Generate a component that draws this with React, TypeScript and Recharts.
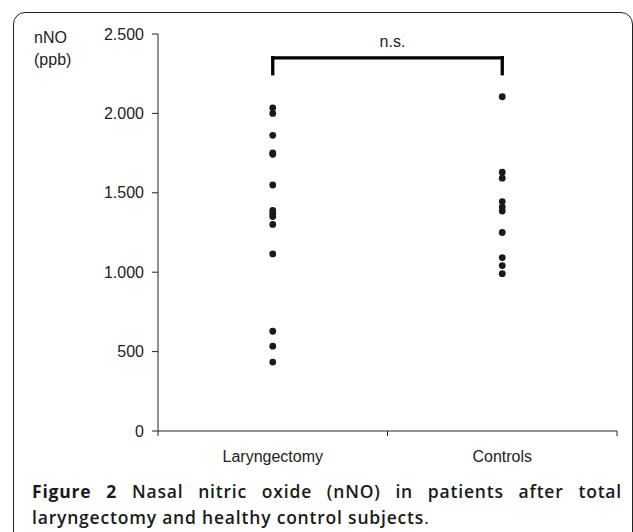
import { ScatterChart, Scatter, XAxis, YAxis, ReferenceLine, ReferenceDot } from 'recharts'

const categories = ['Laryngectomy', 'Controls']
const laryngectomy = [2035, 2000, 1862, 1752, 1742, 1549, 1389, 1368, 1350, 1301, 1115, 628, 534, 434]
const controls = [2105, 1630, 1592, 1445, 1410, 1385, 1250, 1092, 1042, 991]
const yTicks = [0, 500, 1000, 1500, 2000, 2500]
const bracketTop = 2350
const bracketFoot = 2250
const bracketLabel = 2420

const ink = '#222'
const font = '"Liberation Sans", Arial, sans-serif'

const toPoints = (values: number[], idx: number) => values.map((y) => ({ x: idx + 0.5, y }))

const formatY = (v: number) =>
  v >= 1000 ? `${Math.floor(v / 1000)}.${String(v % 1000).padStart(3, '0')}` : String(v)

function XTick(props: any) {
  const { x, y, payload } = props
  const v = payload.value as number
  if (Number.isInteger(v)) {
    return <line x1={x} y1={y} x2={x} y2={y + 5} stroke={ink} strokeWidth={1} />
  }
  return (
    <text x={x} y={y + 31} textAnchor="middle" fill={ink} fontSize={16} fontFamily={font}>
      {categories[Math.floor(v)]}
    </text>
  )
}

function YLabel() {
  return (
    <text fill={ink} fontSize={16} fontFamily={font}>
      <tspan x={34} y={43}>nNO</tspan>
      <tspan x={34} y={65}>(ppb)</tspan>
    </text>
  )
}

const dot = (p: any) => <circle cx={p.cx} cy={p.cy} r={3.4} fill="#1a1a1a" />

export default function App() {
  return (
    <div style={{ position: 'absolute', left: 0, top: 0, width: 633, height: 532, overflow: 'hidden', background: '#fff' }}>
      <div
        style={{
          position: 'absolute',
          left: 13,
          top: 12,
          width: 620,
          height: 560,
          boxSizing: 'border-box',
          border: '1.5px solid #222',
          borderRadius: 12,
        }}
      />
      <div style={{ position: 'absolute', left: 0, top: 0 }}>
        <ScatterChart width={633} height={480} margin={{ top: 34, right: 16, left: 0, bottom: 19 }}>
          <XAxis
            type="number"
            dataKey="x"
            domain={[0, 2]}
            ticks={[0, 0.5, 1, 1.5, 2]}
            interval={0}
            tickLine={false}
            tickSize={0}
            tickMargin={0}
            height={30}
            stroke={ink}
            tick={<XTick />}
          />
          <YAxis
            type="number"
            dataKey="y"
            domain={[0, 2500]}
            ticks={yTicks}
            interval={0}
            width={158}
            tickSize={6}
            tickMargin={8}
            stroke={ink}
            tick={{ fill: ink, fontSize: 16, fontFamily: font }}
            tickFormatter={formatY}
            label={<YLabel />}
          />
          <Scatter data={toPoints(laryngectomy, 0)} shape={dot} isAnimationActive={false} />
          <Scatter data={toPoints(controls, 1)} shape={dot} isAnimationActive={false} />
          <ReferenceLine segment={[{ x: 0.5, y: bracketTop }, { x: 1.5, y: bracketTop }]} stroke="#000" strokeWidth={3.3} strokeLinecap="square" />
          <ReferenceLine segment={[{ x: 0.5, y: bracketTop }, { x: 0.5, y: bracketFoot }]} stroke="#000" strokeWidth={3.3} strokeLinecap="square" />
          <ReferenceLine segment={[{ x: 1.5, y: bracketTop }, { x: 1.5, y: bracketFoot }]} stroke="#000" strokeWidth={3.3} strokeLinecap="square" />
          <ReferenceDot
            x={1}
            y={bracketLabel}
            r={0}
            shape={(p: any) => (
              <text x={p.cx + 5} y={p.cy} textAnchor="middle" fill={ink} fontSize={16} fontFamily={font}>
                n.s.
              </text>
            )}
          />
        </ScatterChart>
      </div>
      <div
        style={{
          position: 'absolute',
          left: 32,
          top: 479,
          width: 590,
          fontFamily: '"Open Sans", sans-serif',
          fontWeight: 600,
          fontSize: 17.5,
          letterSpacing: 0.8,
          lineHeight: '25.5px',
          color: '#1a1a1a',
        }}
      >
        <div style={{ textAlign: 'justify', textAlignLast: 'justify', whiteSpace: 'nowrap' }}>
          <span style={{ fontWeight: 700 }}>Figure 2</span> Nasal nitric oxide (nNO) in patients after total
        </div>
        <div>
          laryngectomy and healthy control subjects<span style={{ fontWeight: 400 }}>.</span>
        </div>
      </div>
    </div>
  )
}
